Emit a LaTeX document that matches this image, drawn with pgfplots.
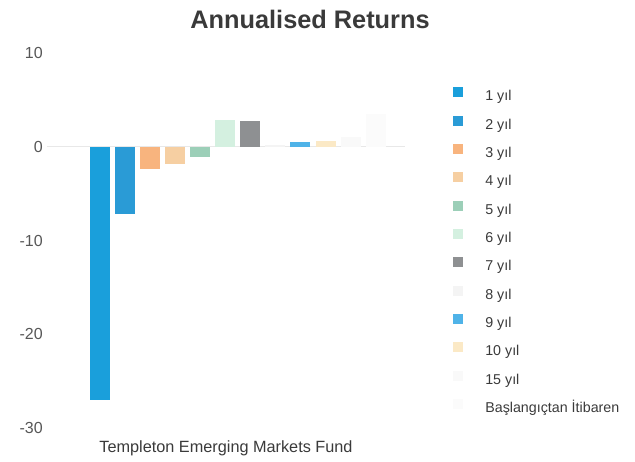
\documentclass[border=0pt]{standalone}
\usepackage{pgfplots}
\pgfplotsset{compat=1.18}
\usepackage{fontspec}
\setmainfont{Liberation Sans}
\definecolor{c1}{HTML}{1A9FDB}
\definecolor{c2}{HTML}{2A9BD6}
\definecolor{c3}{HTML}{F8B47E}
\definecolor{c4}{HTML}{F6CFA2}
\definecolor{c5}{HTML}{9CCFB8}
\definecolor{c6}{HTML}{D4F0E0}
\definecolor{c7}{HTML}{8E9092}
\definecolor{c8}{HTML}{F4F4F4}
\definecolor{c9}{HTML}{4FB3E8}
\definecolor{c10}{HTML}{FBE9C6}
\definecolor{c11}{HTML}{F9F9F9}
\definecolor{c12}{HTML}{FBFBFB}
\definecolor{txt}{HTML}{3A3A3A}
\begin{document}
\begin{tikzpicture}
\path[use as bounding box] (0,0) rectangle (476.25pt,-345.75pt);
\begin{axis}[
  at={(35.25pt,-321pt)}, anchor=south west,
  scale only axis, width=268.5pt, height=281.25pt,
  xmin=-1.09, xmax=13.16, ymin=-30, ymax=10,
  ytick={-30,-20,-10,0,10}, xtick=\empty,
  axis line style={draw=none}, major tick length=0pt,
  every axis plot/.append style={ybar, bar width=15pt, bar shift=0pt, draw=none},
  /pgf/number format/assume math mode=true,
  yticklabel style={font=\fontsize{12}{14}\selectfont, text=txt!85, inner sep=0pt, xshift=-3pt},
  extra y ticks={0}, extra y tick labels={},
  extra y tick style={grid=major, major grid style={draw=gray!18, line width=0.6pt}},
  xlabel={Templeton Emerging Markets Fund},
  xlabel style={at={(axis description cs:0.5,0)}, anchor=base, yshift=-18pt, font=\fontsize{12.2}{14}\selectfont, text=txt},
  legend image code/.code={\fill[#1] (0pt,-0.2pt) rectangle (7.5pt,7.3pt);},
  legend cell align=left,
  legend style={at={(rel axis cs:1.123,0.916)}, anchor=north west, draw=none, fill=none,
    font=\fontsize{10.7}{12}\selectfont, text=txt, row sep=8.7pt, column sep=16.5pt,
    nodes={inner sep=0pt, text height=8pt, text depth=2.5pt}},
]
\addplot[fill=c1] coordinates {(1,-27.0)};
\addplot[fill=c2] coordinates {(2,-7.2)};
\addplot[fill=c3] coordinates {(3,-2.35)};
\addplot[fill=c4] coordinates {(4,-1.8)};
\addplot[fill=c5] coordinates {(5,-1.1)};
\addplot[fill=c6] coordinates {(6,2.9)};
\addplot[fill=c7] coordinates {(7,2.7)};
\addplot[fill=c8] coordinates {(8,0.2)};
\addplot[fill=c9] coordinates {(9,0.5)};
\addplot[fill=c10] coordinates {(10,0.6)};
\addplot[fill=c11] coordinates {(11,1.0)};
\addplot[fill=c12] coordinates {(12,3.5)};
\legend{1 yıl,2 yıl,3 yıl,4 yıl,5 yıl,6 yıl,7 yıl,8 yıl,9 yıl,10 yıl,15 yıl,Başlangıçtan İtibaren}
\draw[gray!12, line width=0.6pt] (rel axis cs:0,-0.01) -- (rel axis cs:1,-0.01);
\end{axis}
\node[anchor=base, font=\bfseries\fontsize{19}{21}\selectfont, text=txt] at (232.5pt,-21pt) {Annualised Returns};
\end{tikzpicture}
\end{document}
